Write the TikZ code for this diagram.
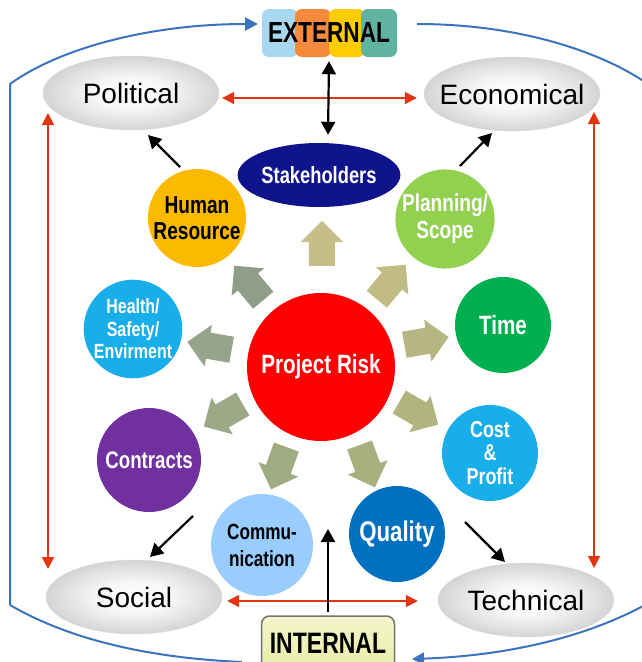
\documentclass[tikz,border=0pt]{standalone}
\usepackage{fontspec}
\setmainfont{Liberation Sans}
\newfontfamily\condb{Liberation Sans}[FakeStretch=0.78]
\usetikzlibrary{arrows.meta,shapes.geometric,shapes.arrows,calc}
\definecolor{bline}{HTML}{3B73BE}
\definecolor{rline}{HTML}{E2340F}
\definecolor{navy}{HTML}{10148C}
\definecolor{hrc}{HTML}{FBB900}
\definecolor{plc}{HTML}{92D050}
\definecolor{cyanc}{HTML}{18AEEA}
\definecolor{timec}{HTML}{00B050}
\definecolor{riskc}{HTML}{FF0000}
\definecolor{purc}{HTML}{7030A0}
\definecolor{comc}{HTML}{99CCFF}
\definecolor{qualc}{HTML}{0070C0}
\definecolor{tlb}{HTML}{A8D8F0}
\definecolor{tor}{HTML}{F58A3C}
\definecolor{tye}{HTML}{FFCC00}
\definecolor{tte}{HTML}{5FB3A0}
\definecolor{intc}{HTML}{E9EEA8}
\pgfdeclareradialshading{envshade}{\pgfpoint{0bp}{0bp}}{color(0bp)=(white); color(10bp)=(white!97!black); color(20bp)=(white!88!black); color(25bp)=(white!83!black); color(50bp)=(white!83!black)}
\tikzset{
  blob/.style={circle, inner sep=0pt, text=white, align=center, font=\condb\bfseries},
  env/.style={ellipse, minimum width=176pt, minimum height=74pt, inner xsep=-12pt, inner ysep=-6pt, shading=envshade, draw=white!86!black, line width=0.4pt, font=\fontsize{28}{30}\selectfont},
  tile/.style={rectangle, rounded corners=7pt, minimum width=36pt, minimum height=48pt, inner sep=0pt},
  ray/.style={single arrow, minimum height=45pt, inner xsep=0pt, inner ysep=13pt, single arrow head extend=8pt},
  redarr/.style={rline, line width=1.8pt, {Triangle[length=12pt,width=12pt]}-{Triangle[length=12pt,width=12pt]}},
  blkarr/.style={black, line width=2.2pt, -{Triangle[length=13pt,width=14pt]}},
  frame/.style={bline, line width=2pt},
}
\begin{document}
\begin{tikzpicture}[x=1pt,y=-1pt]
\useasboundingbox (0,0) rectangle (642,662);
% blue frame
\draw[frame, -{Triangle[length=13pt,width=13pt]}] (10,605) -- (10,84) .. controls (60,48) and (150,24) .. (258,24);
\draw[frame] (417,24) .. controls (520,24) and (600,52) .. (645,82);
\draw[frame] (10,605) .. controls (70,640) and (150,658) .. (242,662);
\draw[frame, -{Triangle[length=12pt,width=12pt]}] (645,605) .. controls (580,640) and (500,656) .. (412,659);

% external tiles
\node[tile, fill=tlb] (t1) at (280,33) {};
\node[tile, fill=tor] (t2) at (313,33) {};
\node[tile, fill=tye] (t3) at (347,33) {};
\node[tile, fill=tte] (t4) at (379,33) {};
\node[font=\condb\bfseries\fontsize{29}{31}\selectfont, minimum width=134pt, minimum height=48pt, inner sep=0pt] (external) at (329,33) {EXTERNAL};

% internal box
\node[draw=white!45!black, line width=1.5pt, rounded corners=8pt, minimum width=133pt, minimum height=54pt, inner sep=0pt, top color=white!40!intc, bottom color=intc, font=\condb\bfseries\fontsize{29.5}{31}\selectfont] (internal) at (328,643) {INTERNAL};

% environment ellipses
\node[env] (pol) at (131,93) {Political};
\node[env] (eco) at (512,94) {Economical};
\node[env] (soc) at (134,597) {Social};
\node[env] (tech) at (526,600) {Technical};

% circles
\node[ellipse, fill=navy, minimum width=128pt, minimum height=64pt, inner sep=0pt, text=white, font=\condb\bfseries\fontsize{23.5}{25}\selectfont] (stake) at (319,175) {Stakeholders};
\node[blob, fill=hrc, text=black, minimum size=98pt, font=\condb\bfseries\fontsize{24.5}{26}\selectfont] (hr) at (197,218) {Human\\Resource};
\node[blob, fill=plc, minimum size=96pt, font=\condb\bfseries\fontsize{24.5}{27}\selectfont] (plan) at (445,219) {Planning/\\Scope};
\node[blob, fill=cyanc, minimum size=94pt, font=\condb\bfseries\fontsize{20.5}{22.5}\selectfont] (hse) at (133,329) {Health/\\Safety/\\Envirment};
\node[blob, fill=timec, minimum size=96pt, font=\condb\bfseries\fontsize{26.5}{28}\selectfont] (time) at (503,325) {Time};
\node[blob, fill=riskc, minimum size=148pt, font=\condb\bfseries\fontsize{26.5}{28}\selectfont] (risk) at (321,367) {Project Risk};
\node[blob, fill=purc, minimum size=104pt, font=\condb\bfseries\fontsize{24}{26}\selectfont] (contr) at (149,460) {Contracts};
\node[blob, fill=cyanc, minimum size=96pt, font=\condb\bfseries\fontsize{23}{23.5}\selectfont] (cost) at (490,453) {Cost\\\&\\Profit};
\node[blob, fill=comc, text=black, minimum size=102pt, font=\condb\bfseries\fontsize{22}{27}\selectfont] (comm) at (262,545) {Commu-\\nication};
\node[blob, fill=qualc, minimum size=96pt, font=\condb\bfseries\fontsize{28.5}{30}\selectfont] (qual) at (397,534) {Quality};

% radiating arrows
\node[ray, fill={rgb,255:red,197;green,190;blue,135}, rotate=90] (r1) at (322,250) {};
\node[ray, fill={rgb,255:red,192;green,188;blue,132}, rotate=50] (r2) at (387,287) {};
\node[ray, fill={rgb,255:red,182;green,182;blue,130}, rotate=10] (r3) at (420,342) {};
\node[ray, fill={rgb,255:red,177;green,180;blue,127}, rotate=-30] (r4) at (413,410) {};
\node[ray, fill={rgb,255:red,169;green,176;blue,127}, rotate=-70] (r5) at (365,460) {};
\node[ray, fill={rgb,255:red,160;green,171;blue,130}, rotate=-110] (r6) at (281,462) {};
\node[ray, fill={rgb,255:red,156;green,168;blue,134}, rotate=-150] (r7) at (229,412) {};
\node[ray, fill={rgb,255:red,151;green,164;blue,140}, rotate=170] (r8) at (216,347) {};
\node[ray, fill={rgb,255:red,143;green,158;blue,136}, rotate=130] (r9) at (253,288) {};

% red arrows
\draw[redarr] ($(pol.east)+(3,5)$) -- ($(eco.west)+(-7,4)$);
\draw[redarr] ($(soc.east)+(5,4)$) -- ($(tech.west)+(-20,1)$);
\draw[redarr] ($(pol.center)+(-83,20)$) -- ($(soc.center)+(-86,-28)$);
\draw[redarr] ($(eco.center)+(82,18)$) -- ($(tech.center)+(68,-32)$);

% black arrows
\draw[blkarr] ($(hr.center)+(-17,-51)$) -- ($(pol.center)+(17,42)$);
\draw[blkarr] ($(plan.center)+(15,-53)$) -- ($(eco.center)+(-20,39)$);
\draw[blkarr] ($(contr.center)+(44,56)$) -- ($(soc.center)+(16,-40)$);
\draw[blkarr] ($(qual.center)+(68,-12)$) -- ($(tech.center)+(-21,-38)$);
\draw[black, line width=2.2pt, {Triangle[length=13pt,width=14pt]}-{Triangle[length=13pt,width=14pt]}] ($(external.south)+(0,4)$) -- ($(stake.north)+(9,-8)$);
\coordinate (intip) at (328,529);
\draw[blkarr] ($(internal.north)+(0,-3)$) -- (intip);
\end{tikzpicture}
\end{document}
